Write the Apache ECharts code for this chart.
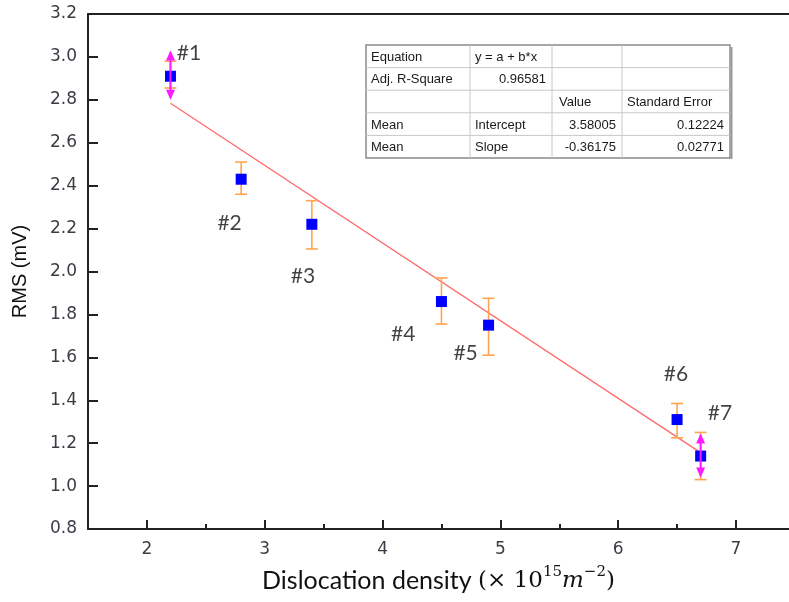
<!DOCTYPE html>
<html>
<head>
<meta charset="utf-8">
<script src="https://cdn.jsdelivr.net/npm/echarts@6/dist/echarts.min.js"></script>
<style>
  html, body { margin: 0; padding: 0; background: #fff; }
  #main { width: 789px; height: 602px; }
</style>
</head>
<body>
<div id="main"></div>
<script>
// sample names and measured values
var pointNames = ["#1", "#2", "#3", "#4", "#5", "#6", "#7"];
var density = [2.2, 2.8, 3.4, 4.5, 4.9, 6.5, 6.7];
var rms = [2.91, 2.43, 2.22, 1.86, 1.75, 1.31, 1.14];
// error bar ends
var errLow = [2.855, 2.36, 2.105, 1.755, 1.61, 1.225, 1.03];
var errHigh = [2.98, 2.51, 2.33, 1.97, 1.875, 1.385, 1.25];
// magenta arrows (only #1 and #7)
var arrowX = [2.2, 6.7];
var arrowLow = [2.8, 1.04];
var arrowHigh = [3.03, 1.245];
// where the "#n" labels sit (data units)
var labelX = [2.357, 2.702, 3.324, 4.175, 4.705, 6.49, 6.864];
var labelY = [3.018, 2.225, 1.979, 1.706, 1.618, 1.522, 1.338];
// linear fit line end points
var fitX = [2.2, 6.7];
var fitY = [2.784, 1.156];
// ticks
var xMajorTicks = [2, 3, 4, 5, 6, 7];
var xMinorTicks = [2.5, 3.5, 4.5, 5.5, 6.5];
// fit result table
var tableRows = [
  ["Equation", "y = a + b*x", "", ""],
  ["Adj. R-Square", "0.96581", "", ""],
  ["", "", "Value", "Standard Error"],
  ["Mean", "Intercept", "3.58005", "0.12224"],
  ["Mean", "Slope", "-0.36175", "0.02771"]
];

var chart = echarts.init(document.getElementById("main"));

var pts = density.map(function (x, i) { return [x, rms[i]]; });
var errData = density.map(function (x, i) { return [x, errLow[i], errHigh[i]]; });
var arrowData = arrowX.map(function (x, i) { return [x, arrowLow[i], arrowHigh[i]]; });
var labelData = labelX.map(function (x, i) { return { value: [x, labelY[i]], name: pointNames[i] }; });
var fitData = fitX.map(function (x, i) { return [x, fitY[i]]; });

// table drawn with graphic elements
var colX = [366, 470, 552, 622, 730];
var rowTop = 45, rowH = 22.6;
var tableChildren = [];
tableChildren.push({
  type: "rect",
  shape: { x: colX[0], y: rowTop, width: colX[4] - colX[0], height: rowH * 5 },
  style: { fill: "#fff", stroke: "#8a8a8a", lineWidth: 1.5 }
});
for (var r = 1; r < 5; r++) {
  tableChildren.push({
    type: "line",
    shape: { x1: colX[0], y1: rowTop + r * rowH, x2: colX[4], y2: rowTop + r * rowH },
    style: { stroke: "#c8c8c8", lineWidth: 1 }
  });
}
for (var c = 1; c < 4; c++) {
  tableChildren.push({
    type: "line",
    shape: { x1: colX[c], y1: rowTop, x2: colX[c], y2: rowTop + rowH * 5 },
    style: { stroke: "#c8c8c8", lineWidth: 1 }
  });
}
tableChildren.push({
  type: "line",
  shape: { x1: colX[4] + 1.5, y1: rowTop + 2, x2: colX[4] + 1.5, y2: rowTop + rowH * 5 + 1 },
  style: { stroke: "#9a9a9a", lineWidth: 2 }
});
tableRows.forEach(function (row, ri) {
  row.forEach(function (txt, ci) {
    if (!txt) return;
    // numbers are right aligned, words left aligned
    var isNum = /^-?[0-9.]+$/.test(txt);
    var x = isNum ? colX[ci + 1] - 6 : colX[ci] + 5;
    if (txt === "Value") x = colX[ci] + 7;
    tableChildren.push({
      type: "text",
      style: {
        x: x,
        y: rowTop + ri * rowH + rowH / 2 + 1,
        text: txt,
        fill: "#1a1a1a",
        font: "13px 'Liberation Sans', Arial, sans-serif",
        textAlign: isNum ? "right" : "left",
        textVerticalAlign: "middle"
      }
    });
  });
});

var option = {
  backgroundColor: "#fff",
  animation: false,
  grid: { left: 88, top: 14, right: 0, bottom: 73 },
  xAxis: [
    {
      type: "value",
      min: 1.5, max: 7.45,
      axisLine: { lineStyle: { color: "#222", width: 2 } },
      axisTick: { inside: true, length: 9, customValues: xMajorTicks, lineStyle: { color: "#222", width: 2 } },
      axisLabel: {
        customValues: xMajorTicks,
        color: "#3c3c46",
        fontSize: 17,
        fontFamily: "DejaVu Sans",
        margin: 12
      },
      splitLine: { show: false },
      name: "{a|Dislocation density }{b|(× 10}{sup|15}{i|m}{sup|−2}{b|)}",
      nameLocation: "middle",
      nameGap: 36,
      nameTextStyle: {
        rich: {
          a: { fontFamily: "Lato", fontSize: 25, color: "#111", lineHeight: 32 },
          b: { fontFamily: "DejaVu Serif", fontSize: 23, color: "#111", lineHeight: 32 },
          i: { fontFamily: "DejaVu Serif", fontStyle: "italic", fontSize: 23, color: "#111", lineHeight: 32 },
          sup: { fontFamily: "DejaVu Serif", fontSize: 15, color: "#111", verticalAlign: "top", lineHeight: 17 }
        }
      }
    },
    {
      type: "value",
      min: 1.5, max: 7.45,
      axisLine: { show: false },
      axisTick: { inside: true, length: 5, customValues: xMinorTicks, lineStyle: { color: "#222", width: 2 } },
      axisLabel: { show: false },
      splitLine: { show: false },
      position: "bottom"
    },
    {
      // top frame line only
      type: "value",
      min: 1.5, max: 7.45,
      position: "top",
      axisLine: { show: true, lineStyle: { color: "#222", width: 2 } },
      axisTick: { show: false },
      axisLabel: { show: false },
      splitLine: { show: false }
    }
  ],
  yAxis: {
    type: "value",
    min: 0.8, max: 3.2, interval: 0.2,
    axisLine: { show: true, lineStyle: { color: "#222", width: 2 } },
    axisTick: { inside: true, length: 10, lineStyle: { color: "#222", width: 2 } },
    axisLabel: {
      color: "#3c3c46",
      fontSize: 17,
      fontFamily: "DejaVu Sans",
      margin: 11,
      formatter: function (v) { return v.toFixed(1); }
    },
    splitLine: { show: false },
    name: "RMS (mV)",
    nameLocation: "middle",
    nameGap: 58,
    nameTextStyle: { fontFamily: "Liberation Sans", fontSize: 20, color: "#111" }
  },
  series: [
    {
      type: "line",
      data: fitData,
      symbol: "none",
      lineStyle: { color: "#ff6a6a", width: 1.3 },
      z: 2
    },
    {
      type: "custom",
      data: errData,
      z: 3,
      renderItem: function (params, api) {
        var top = api.coord([api.value(0), api.value(2)]);
        var bot = api.coord([api.value(0), api.value(1)]);
        var w = 6;
        var st = { stroke: "#ffa54f", lineWidth: 1.6 };
        return {
          type: "group",
          children: [
            { type: "line", shape: { x1: top[0], y1: top[1], x2: bot[0], y2: bot[1] }, style: st },
            { type: "line", shape: { x1: top[0] - w, y1: top[1], x2: top[0] + w, y2: top[1] }, style: st },
            { type: "line", shape: { x1: bot[0] - w, y1: bot[1], x2: bot[0] + w, y2: bot[1] }, style: st }
          ]
        };
      }
    },
    {
      type: "scatter",
      data: pts,
      symbol: "rect",
      symbolSize: 11,
      itemStyle: { color: "#0000ff", opacity: 1 },
      z: 4
    },
    {
      type: "custom",
      data: arrowData,
      z: 5,
      renderItem: function (params, api) {
        var top = api.coord([api.value(0), api.value(2)]);
        var bot = api.coord([api.value(0), api.value(1)]);
        var hw = 4.5, hl = 10;
        var col = "#ff1aff";
        return {
          type: "group",
          children: [
            { type: "line", shape: { x1: top[0], y1: top[1] + 2, x2: bot[0], y2: bot[1] - 2 }, style: { stroke: col, lineWidth: 2 } },
            { type: "polygon", shape: { points: [[top[0], top[1]], [top[0] - hw, top[1] + hl], [top[0] + hw, top[1] + hl]] }, style: { fill: col } },
            { type: "polygon", shape: { points: [[bot[0], bot[1]], [bot[0] - hw, bot[1] - hl], [bot[0] + hw, bot[1] - hl]] }, style: { fill: col } }
          ]
        };
      }
    },
    {
      type: "scatter",
      data: labelData,
      symbolSize: 0,
      silent: true,
      z: 6,
      label: {
        show: true,
        position: "inside",
        formatter: "{b}",
        fontFamily: "Lato",
        fontSize: 21,
        color: "#111"
      }
    }
  ],
  graphic: [{ type: "group", children: tableChildren, z: 10 }]
};

chart.setOption(option);
</script>
</body>
</html>
